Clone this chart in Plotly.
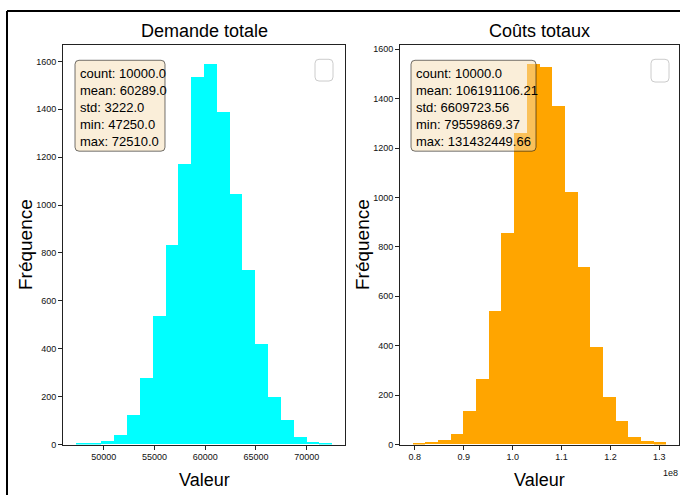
import plotly.graph_objects as go

# ---------------- data ----------------
n_bins = 20
demande_stats = {"count": 10000.0, "mean": 60289.0, "std": 3222.0, "min": 47250.0, "max": 72510.0}
demande_counts = [5, 5, 14, 40, 120, 276, 537, 830, 1169, 1532,
                  1587, 1388, 1043, 728, 420, 198, 99, 29, 11, 4]
couts_stats = {"count": 10000.0, "mean": 106191106.21, "std": 6609723.56,
               "min": 79559869.37, "max": 131432449.66}
couts_counts = [6, 9, 17, 42, 134, 265, 540, 856, 1260, 1538,
                1524, 1370, 1022, 717, 393, 192, 93, 29, 12, 8]
y_ticks = [0, 200, 400, 600, 800, 1000, 1200, 1400, 1600]
demande_xticks = [50000, 55000, 60000, 65000, 70000]
couts_xticks = [0.8e8, 0.9e8, 1.0e8, 1.1e8, 1.2e8, 1.3e8]
couts_xticktext = ["0.8", "0.9", "1.0", "1.1", "1.2", "1.3"]
titles = ["Demande totale", "Coûts totaux"]

W, H = 680, 500
REG = "Liberation Sans, Arial, sans-serif"


def px(x, y):
    return x / W, 1 - y / H


def rrect(x0, y0, x1, y1, r):
    rx, ry = r / W, r / H
    a0, b0 = px(x0, y0)
    a1, b1 = px(x1, y1)
    return (f"M{a0+rx},{b0} L{a1-rx},{b0} Q{a1},{b0} {a1},{b0-ry} "
            f"L{a1},{b1+ry} Q{a1},{b1} {a1-rx},{b1} L{a0+rx},{b1} "
            f"Q{a0},{b1} {a0},{b1+ry} L{a0},{b0-ry} Q{a0},{b0} {a0+rx},{b0} Z")


def hist_geometry(stats, counts):
    lo, hi = stats["min"], stats["max"]
    bw = (hi - lo) / n_bins
    centers = [lo + bw * (i + 0.5) for i in range(n_bins)]
    pad = 0.05 * (hi - lo)
    return centers, bw, [lo - pad, hi + pad], [0, 1.05 * max(counts)]


def fmt_stats(stats, dec):
    parts = []
    for k, v in stats.items():
        d = 1 if k == "count" else dec
        parts.append(f"{k}: {v:.{d}f}")
    return "<br>".join(parts)


fig = go.Figure()

panels = [
    (demande_stats, demande_counts, "#00FFFF", "x", "y", 1),
    (couts_stats, couts_counts, "#FFA500", "x2", "y2", 2),
]
ranges = []
for stats, counts, color, xa, ya, dec in panels:
    centers, bw, xr, yr = hist_geometry(stats, counts)
    ranges.append((xr, yr))
    fig.add_trace(go.Bar(x=centers, y=counts, width=bw, marker_color=color,
                         marker_line_width=0, xaxis=xa, yaxis=ya,
                         showlegend=False, hoverinfo="skip"))

dom_y = [1 - 449 / H, 1 - 45 / H]
dom_x1 = [63 / W, 345 / W]
dom_x2 = [400 / W, 679 / W]

axis_common = dict(showline=True, linecolor="#222", linewidth=1, mirror=True,
                   ticks="outside", ticklen=4, tickcolor="#222", showgrid=False,
                   zeroline=False, tickfont=dict(family=REG, size=9, color="#111"))

fig.update_layout(
    width=W, height=H, margin=dict(l=0, r=0, t=0, b=0),
    paper_bgcolor="white", plot_bgcolor="white", bargap=0,
    xaxis=dict(domain=dom_x1, range=ranges[0][0], anchor="y",
               tickvals=demande_xticks, ticktext=[str(v) for v in demande_xticks], **axis_common),
    yaxis=dict(domain=dom_y, range=ranges[0][1], anchor="x",
               tickvals=y_ticks, **axis_common),
    xaxis2=dict(domain=dom_x2, range=ranges[1][0], anchor="y2",
                tickvals=couts_xticks, ticktext=couts_xticktext, **axis_common),
    yaxis2=dict(domain=dom_y, range=ranges[1][1], anchor="x2",
                tickvals=y_ticks, **axis_common),
)

shapes = []
annotations = []

# figure border (top and left)
shapes.append(dict(type="line", xref="paper", yref="paper", x0=7 / W, x1=1.0,
                   y0=1 - 10 / H, y1=1 - 10 / H, line=dict(color="black", width=2)))
shapes.append(dict(type="line", xref="paper", yref="paper", x0=7 / W, x1=7 / W,
                   y0=0, y1=1 - 10 / H, line=dict(color="black", width=2)))

box_px = [(75, 60, 165, 152), (411, 60, 536, 152)]
legend_px = [(315, 59, 333, 81), (651, 59, 669, 82)]
for (stats, counts, color, xa, ya, dec), (bx0, by0, bx1, by1), (lx0, ly0, lx1, ly1) in zip(panels, box_px, legend_px):
    shapes.append(dict(type="path", xref="paper", yref="paper",
                       path=rrect(bx0, by0, bx1, by1, 4), layer="above",
                       fillcolor="rgba(245,222,179,0.5)",
                       line=dict(color="rgba(0,0,0,0.55)", width=1)))
    ax, ay = px(bx0 + 3, by0 + 4)
    annotations.append(dict(xref="paper", yref="paper", x=ax, y=ay, xanchor="left",
                            yanchor="top", align="left", showarrow=False,
                            text=fmt_stats(stats, dec),
                            font=dict(family=REG, size=13, color="black")))
    shapes.append(dict(type="path", xref="paper", yref="paper",
                       path=rrect(lx0, ly0, lx1, ly1, 4), layer="above",
                       fillcolor="rgba(255,255,255,0.8)",
                       line=dict(color="#cccccc", width=1)))

for title, dx in zip(titles, [dom_x1, dom_x2]):
    cx = (dx[0] + dx[1]) / 2
    annotations.append(dict(xref="paper", yref="paper", x=cx, y=1 - 30 / H,
                            xanchor="center", yanchor="middle", showarrow=False,
                            text=title, font=dict(family=REG, size=18, color="black")))
    annotations.append(dict(xref="paper", yref="paper", x=cx, y=1 - 485 / H,
                            xanchor="center", yanchor="middle", showarrow=False,
                            text="Valeur", font=dict(family=REG, size=18, color="black")))
for fx in [25, 362]:
    annotations.append(dict(xref="paper", yref="paper", x=fx / W, y=1 - 247 / H,
                            xanchor="center", yanchor="middle", showarrow=False, textangle=-90,
                            text="Fréquence", font=dict(family=REG, size=19, color="black")))

annotations.append(dict(xref="paper", yref="paper", x=670 / W, y=1 - 478 / H,
                        xanchor="center", yanchor="middle", showarrow=False,
                        text="1e8", font=dict(family=REG, size=9, color="#111")))

fig.update_layout(shapes=shapes, annotations=annotations)
fig.write_html("out.html", config={"displayModeBar": False},
               post_script="document.body.style.margin='0';document.body.style.overflow='hidden';")
